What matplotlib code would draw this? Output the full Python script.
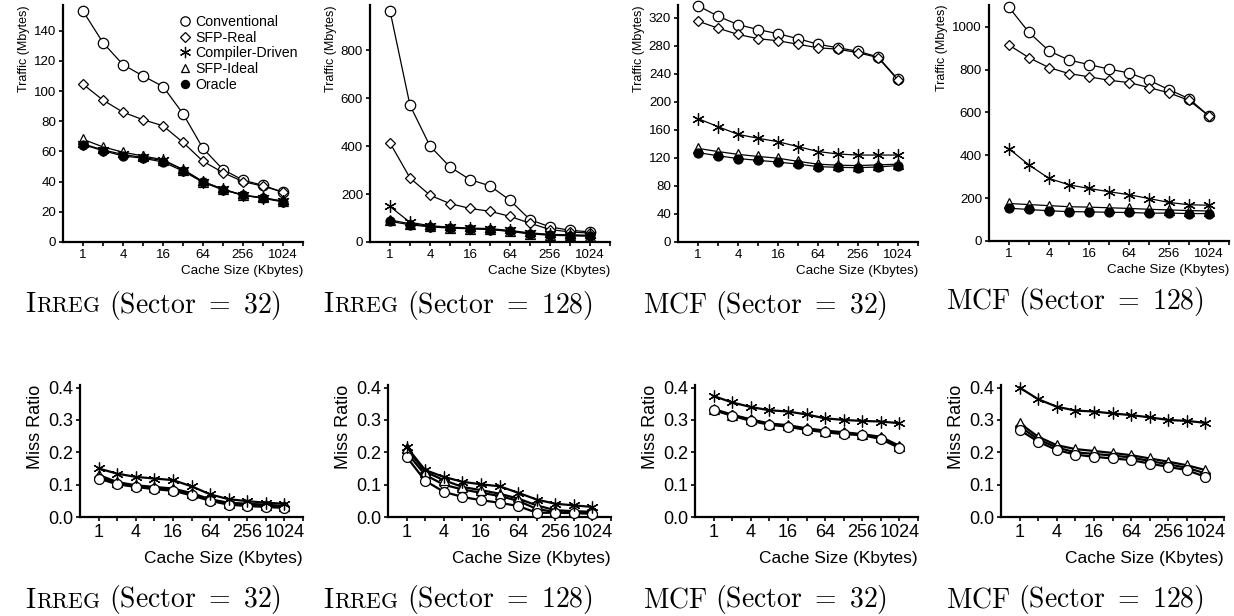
#!/usr/bin/env python3
"""Traffic and miss ratio vs. cache size for IRREG and MCF (sector 32/128)."""

import matplotlib
matplotlib.use("Agg")
import matplotlib.pyplot as plt  # noqa: E402
from matplotlib.lines import Line2D  # noqa: E402
from matplotlib.offsetbox import TextArea, HPacker, AnnotationBbox  # noqa: E402
import numpy as np  # noqa: E402

plt.rcParams["font.family"] = ["Liberation Sans", "DejaVu Sans"]
plt.rcParams["mathtext.fontset"] = "cm"

# ---------------------------------------------------------------------------
# Data
# ---------------------------------------------------------------------------
CACHE_KB = [1, 2, 4, 8, 16, 32, 64, 128, 256, 512, 1024]
LABELED_KB = [1, 4, 16, 64, 256, 1024]
SERIES = ["Conventional", "SFP-Real", "Compiler-Driven", "SFP-Ideal", "Oracle"]

# traffic (Mbytes), IRREG sector 32
irreg32_conv = [153, 132, 117.5, 110, 103, 85, 62, 48, 41, 37.5, 33]
irreg32_real = [104.5, 94, 86, 81, 77, 66, 53.5, 46, 40, 37, 33]
irreg32_comp = [65, 61, 58, 56, 54, 48, 40, 35, 31, 29, 27]
irreg32_ideal = [68, 63, 59.5, 57, 54.5, 48, 40, 35, 31, 29.5, 27]
irreg32_orac = [64.5, 60.5, 57, 55.5, 53, 47, 39.5, 34.5, 31, 29, 26.5]

# traffic (Mbytes), IRREG sector 128
irreg128_conv = [964, 570, 400, 313, 260, 234, 174, 93, 63, 49, 42]
irreg128_real = [413, 267, 195, 160, 140, 128, 107, 78, 52, 42, 37]
irreg128_comp = [148, 82, 68, 62, 58, 56, 48, 38, 32, 30, 28]
irreg128_ideal = [92, 76, 66, 60, 56, 53, 45, 35, 30, 28, 26]
irreg128_orac = [86, 72, 63, 58, 55, 52, 44, 34, 28, 26, 24]

# traffic (Mbytes), MCF sector 32
mcf32_conv = [337, 322, 310, 303, 297, 290, 282, 277, 272, 264, 232]
mcf32_real = [315, 305, 296, 290, 287, 282, 277, 275, 270, 263, 231]
mcf32_comp = [176, 164.5, 153.5, 148, 143, 136, 129, 125.5, 124, 124, 124]
mcf32_ideal = [133.5, 129, 125, 122, 119.5, 115, 111, 109.5, 109, 110, 111]
mcf32_orac = [127.5, 123, 119, 116.5, 114, 111, 107.5, 106.5, 106, 107, 109]

# traffic (Mbytes), MCF sector 128
mcf128_conv = [1090, 973, 887, 844, 823, 802, 784, 750, 706, 664, 583]
mcf128_real = [914, 855, 809, 781, 766, 750, 739, 716, 691, 656, 583]
mcf128_comp = [430, 355, 292, 262, 245, 230, 216, 198, 180, 169, 167]
mcf128_ideal = [175, 170, 165, 160, 158, 155, 152, 148, 145, 142, 140]
mcf128_orac = [153, 147, 141, 137, 136, 134, 133, 130, 130, 128, 128]

# miss ratio, IRREG sector 32
irreg32_miss_conv = [0.119, 0.101, 0.093, 0.086, 0.081, 0.067, 0.050, 0.038, 0.034, 0.031, 0.028]
irreg32_miss_real = [0.125, 0.105, 0.096, 0.090, 0.085, 0.071, 0.053, 0.041, 0.037, 0.035, 0.031]
irreg32_miss_comp = [0.150, 0.134, 0.124, 0.119, 0.114, 0.095, 0.070, 0.055, 0.049, 0.044, 0.041]
irreg32_miss_ideal = [0.130, 0.108, 0.098, 0.093, 0.088, 0.074, 0.055, 0.044, 0.041, 0.038, 0.034]

# miss ratio, IRREG sector 128
irreg128_miss_conv = [0.186, 0.112, 0.078, 0.062, 0.052, 0.044, 0.034, 0.013, 0.013, 0.012, 0.010]
irreg128_miss_real = [0.200, 0.130, 0.100, 0.085, 0.075, 0.065, 0.050, 0.025, 0.015, 0.013, 0.012]
irreg128_miss_comp = [0.217, 0.145, 0.124, 0.109, 0.101, 0.095, 0.075, 0.054, 0.041, 0.036, 0.031]
irreg128_miss_ideal = [0.212, 0.140, 0.114, 0.093, 0.083, 0.072, 0.057, 0.036, 0.021, 0.018, 0.016]

# miss ratio, MCF sector 32
mcf32_miss_conv = [0.330, 0.313, 0.297, 0.285, 0.279, 0.269, 0.262, 0.256, 0.253, 0.241, 0.213]
mcf32_miss_real = [0.332, 0.315, 0.300, 0.287, 0.282, 0.272, 0.265, 0.259, 0.255, 0.245, 0.217]
mcf32_miss_comp = [0.374, 0.354, 0.340, 0.330, 0.326, 0.317, 0.305, 0.300, 0.297, 0.295, 0.290]
mcf32_miss_ideal = [0.334, 0.316, 0.302, 0.289, 0.284, 0.274, 0.267, 0.262, 0.256, 0.248, 0.220]

# miss ratio, MCF sector 128
mcf128_miss_conv = [0.269, 0.233, 0.207, 0.193, 0.186, 0.181, 0.176, 0.165, 0.155, 0.145, 0.124]
mcf128_miss_real = [0.280, 0.240, 0.215, 0.200, 0.195, 0.190, 0.184, 0.173, 0.163, 0.152, 0.135]
mcf128_miss_comp = [0.400, 0.364, 0.341, 0.329, 0.326, 0.320, 0.315, 0.308, 0.300, 0.297, 0.291]
mcf128_miss_ideal = [0.290, 0.248, 0.222, 0.210, 0.204, 0.198, 0.191, 0.181, 0.171, 0.160, 0.145]

# ---------------------------------------------------------------------------
# Styles
# ---------------------------------------------------------------------------
STYLE = {
    "Conventional": dict(marker="o", mfc="white", ms=7.5),
    "SFP-Real": dict(marker="D", mfc="white", ms=5.5),
    "Compiler-Driven": dict(marker=(6, 2, 0), mfc="black", ms=9),
    "SFP-Ideal": dict(marker="^", mfc="white", ms=7),
    "Oracle": dict(marker="o", mfc="black", ms=6.5),
}

FIG_W, FIG_H = 1234, 616


def px_rect(left, top, right, bottom):
    """Axes rectangle from pixel edges (top-left origin)."""
    return [left / FIG_W, 1 - bottom / FIG_H, (right - left) / FIG_W,
            (bottom - top) / FIG_H]


def style_axes(ax, big):
    for side in ("top", "right"):
        ax.spines[side].set_visible(False)
    for side in ("left", "bottom"):
        ax.spines[side].set_linewidth(1.6)
    idx = np.arange(len(CACHE_KB))
    ax.set_xlim(-1, len(CACHE_KB))
    ax.set_xticks(np.arange(len(CACHE_KB) + 1))
    ax.set_xticklabels(
        [str(CACHE_KB[i]) if i < len(CACHE_KB) and CACHE_KB[i] in LABELED_KB else ""
         for i in range(len(CACHE_KB) + 1)])
    fs = 13 if big else 9.6
    ax.tick_params(direction="out", length=3, width=1.2, labelsize=fs, pad=2)
    ax.set_xlabel("Cache Size (Kbytes)", loc="right",
                  fontsize=12.5 if big else 9.6, labelpad=7 if big else 3)
    return idx


def plot_traffic(ax, values, ymax, step):
    idx = style_axes(ax, big=False)
    for name, vals in zip(SERIES, values):
        st = STYLE[name]
        ax.plot(idx, vals, color="black", lw=0.9, marker=st["marker"],
                mfc=st["mfc"], mec="black", ms=st["ms"], mew=0.9,
                clip_on=False, zorder=3)
    ax.set_ylim(0, ymax)
    ax.set_yticks(np.arange(0, ymax, step))
    ax.set_ylabel("Traffic (Mbytes)", loc="top", fontsize=9, labelpad=3)


def plot_miss(ax, values, names):
    idx = style_axes(ax, big=True)
    for name, vals in zip(names, values):
        st = STYLE[name]
        ax.plot(idx, vals, color="black", lw=1.6, marker=st["marker"],
                mfc=st["mfc"], mec="black", ms=st["ms"] * 0.95, mew=0.9,
                clip_on=False, zorder=3)
    ax.set_ylim(0, 0.408)
    ax.set_yticks([0.0, 0.1, 0.2, 0.3, 0.4])
    ax.set_yticklabels(["0.0", "0.1", "0.2", "0.3", "0.4"])
    ax.set_ylabel("Miss Ratio", loc="top", fontsize=13, labelpad=3)


def add_title(fig, cx, cy, name, sector):
    size = 20
    if name == "Irreg":
        parts = [(r"$\mathrm{I}$", size), (r"$\mathrm{RREG}$", size * 0.78)]
    else:
        parts = [(r"$\mathrm{MCF}$", size)]
    parts.append((r"$\mathrm{\ (Sector\ =\ %d)}$" % sector, size))
    boxes = [TextArea(t, textprops=dict(size=s, color="black")) for t, s in parts]
    pack = HPacker(children=boxes, align="baseline", pad=0, sep=0)
    ab = AnnotationBbox(pack, (cx / FIG_W, 1 - cy / FIG_H),
                        xycoords="figure fraction", frameon=False,
                        box_alignment=(0.5, 0.5), pad=0)
    fig.add_artist(ab)


fig = plt.figure(figsize=(FIG_W / 100, FIG_H / 100), dpi=100)

# top row: traffic
top_axes = [
    fig.add_axes(px_rect(63, 5, 303, 242)),
    fig.add_axes(px_rect(370, 5, 610, 242)),
    fig.add_axes(px_rect(678, 5, 918, 242)),
    fig.add_axes(px_rect(989, 5, 1229, 241)),
]
plot_traffic(top_axes[0], [irreg32_conv, irreg32_real, irreg32_comp,
                           irreg32_ideal, irreg32_orac], 157, 20)
plot_traffic(top_axes[1], [irreg128_conv, irreg128_real, irreg128_comp,
                           irreg128_ideal, irreg128_orac], 988, 200)
plot_traffic(top_axes[2], [mcf32_conv, mcf32_real, mcf32_comp,
                           mcf32_ideal, mcf32_orac], 338, 40)
plot_traffic(top_axes[3], [mcf128_conv, mcf128_real, mcf128_comp,
                           mcf128_ideal, mcf128_orac], 1101, 200)

handles = [Line2D([], [], ls="none", marker=STYLE[n]["marker"],
                  mfc=STYLE[n]["mfc"], mec="black", ms=STYLE[n]["ms"] * 0.9,
                  mew=0.9) for n in SERIES]
top_axes[0].legend(handles, SERIES, loc="upper right", bbox_to_anchor=(1.02, 1.0),
                   frameon=False, fontsize=10.2, handlelength=0.7,
                   handletextpad=0.35, labelspacing=0.12, borderpad=0.2)

# bottom row: miss ratio
miss_names = ["SFP-Real", "SFP-Ideal", "Conventional", "Compiler-Driven"]
bot_axes = [
    fig.add_axes(px_rect(80, 385, 303, 517)),
    fig.add_axes(px_rect(388, 385, 611, 517)),
    fig.add_axes(px_rect(695, 385, 918, 517)),
    fig.add_axes(px_rect(1001, 385, 1224, 517)),
]
plot_miss(bot_axes[0], [irreg32_miss_real, irreg32_miss_ideal,
                        irreg32_miss_conv, irreg32_miss_comp], miss_names)
plot_miss(bot_axes[1], [irreg128_miss_real, irreg128_miss_ideal,
                        irreg128_miss_conv, irreg128_miss_comp], miss_names)
plot_miss(bot_axes[2], [mcf32_miss_real, mcf32_miss_ideal,
                        mcf32_miss_conv, mcf32_miss_comp], miss_names)
plot_miss(bot_axes[3], [mcf128_miss_real, mcf128_miss_ideal,
                        mcf128_miss_conv, mcf128_miss_comp], miss_names)

# panel captions
for cy in (305, 600):
    add_title(fig, 153, cy, "Irreg", 32)
    add_title(fig, 458, cy, "Irreg", 128)
    add_title(fig, 765, cy, "MCF", 32)
    add_title(fig, 1075, cy if cy == 600 else 301, "MCF", 128)

fig.savefig("out.png", dpi=100)
plt.close(fig)
